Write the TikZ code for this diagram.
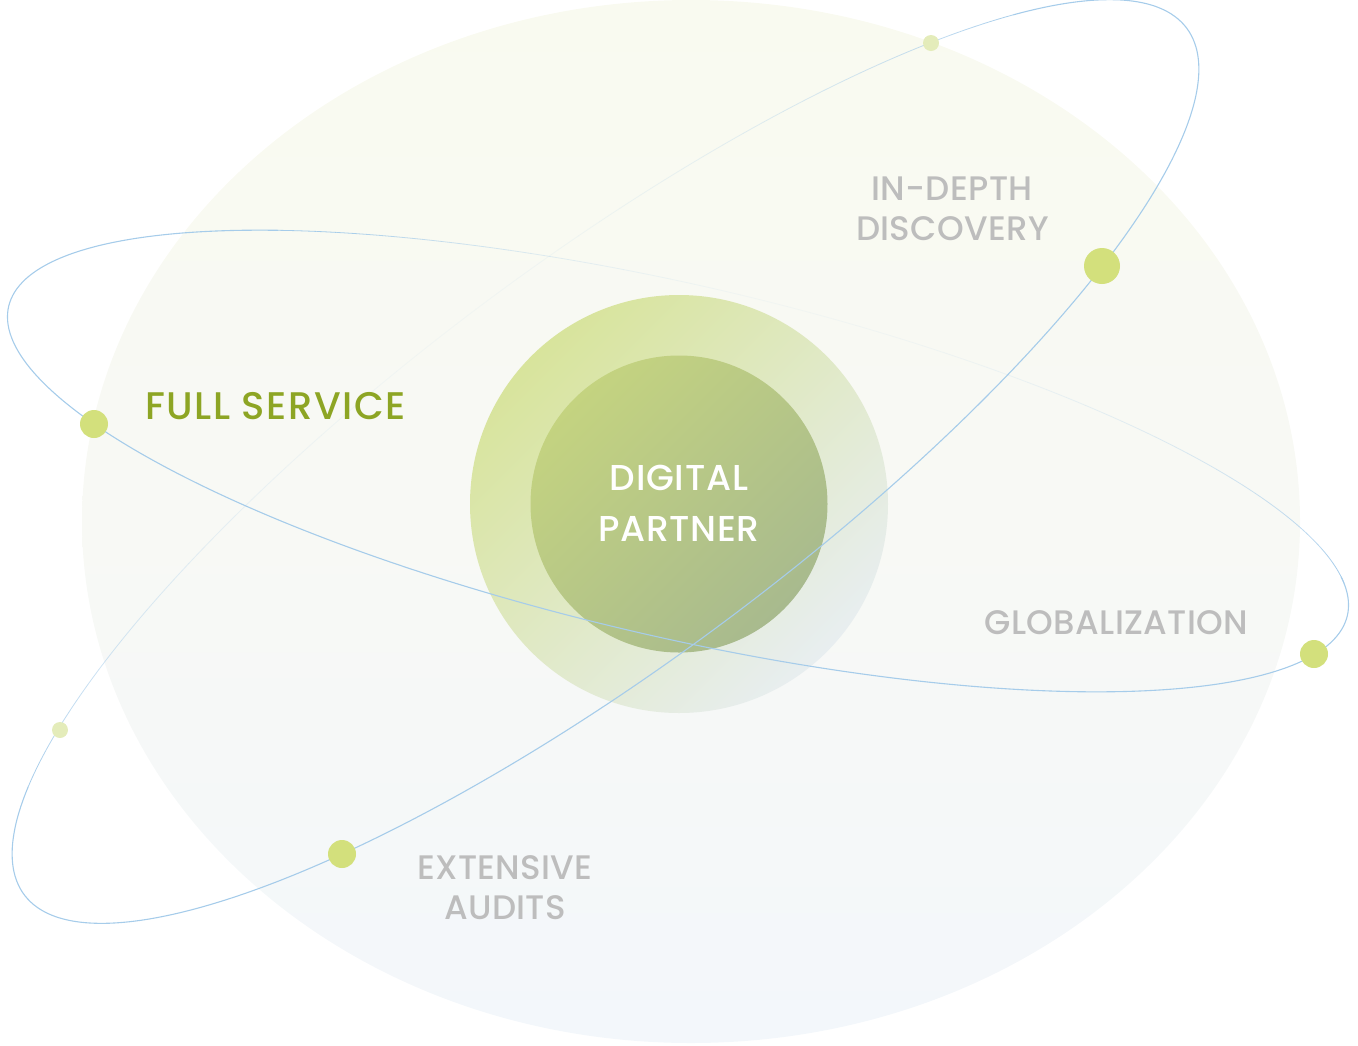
\documentclass[tikz,border=0pt]{standalone}
\usepackage{fontspec}
\IfFontExistsTF{Poppins Medium}{\setmainfont{Poppins Medium}}{\setmainfont{Poppins}[FakeBold=0.6]}
\definecolor{bgtop}{RGB}{249,250,240}
\definecolor{bgbot}{RGB}{243,247,251}
\definecolor{orb}{RGB}{166,204,234}
\definecolor{dotc}{RGB}{211,224,124}
\definecolor{dotf}{RGB}{228,236,186}
\definecolor{ctl}{RGB}{216,228,156}
\definecolor{cbr}{RGB}{232,238,240}
\definecolor{itl}{RGB}{196,211,128}
\definecolor{ibr}{RGB}{168,186,142}
\definecolor{lbl}{RGB}{189,189,189}
\definecolor{grn}{RGB}{141,165,36}
\begin{document}
\begin{tikzpicture}[x=1pt,y=-1pt,
  orbline/.style={draw=orb, line width=1.1pt},
  orbfade/.style={draw=orb, line width=0.8pt, line cap=butt},
  bigdot/.style={circle, fill=dotc, draw=none, inner sep=0pt, minimum size=28pt},
  smalldot/.style={circle, fill=dotf, draw=none, inner sep=0pt, minimum size=16pt},
  lab/.style={text=lbl, font=\fontsize{34}{40}\selectfont\addfontfeatures{LetterSpace=1}, inner sep=0pt, anchor=base},
  ctr/.style={text=white, font=\fontsize{36}{42}\selectfont\addfontfeatures{LetterSpace=2}, inner sep=0pt, anchor=base}]
\useasboundingbox (0,0) rectangle (1358,1045);
% background
\shade[top color=bgtop, bottom color=bgbot, middle color={rgb,255:red,248;green,249;blue,245}] (691,521.5) ellipse [x radius=609pt, y radius=521.5pt];
% back (faded) arcs of orbit 1
\foreach \t in {230,232,...,348}{
  \pgfmathsetmacro\w{\t<275 ? 40 : 70}
  \pgfmathsetmacro\op{0.08+0.92*min(1,((\t-275)/\w)^2)}
  \draw[orbfade, draw opacity=\op] plot[domain=\t:\t+2, samples=3]
    ({678+669.39*cos(\x)-39.59*sin(\x)},{461+154.54*cos(\x)+171.49*sin(\x)});
}
% back (faded) arcs of orbit 2
\foreach \t in {205,207,...,323}{
  \pgfmathsetmacro\op{0.08+0.92*min(1,((\t-265)/60)^2)}
  \draw[orbfade, draw opacity=\op] plot[domain=\t:\t+2, samples=3]
    ({605.5+581.29*cos(\x)+119.23*sin(\x)},{461.5-433.28*cos(\x)+159.96*sin(\x)});
}
% circles
\node[circle, minimum size=418pt, inner sep=0pt, shade, top color=ctl, bottom color=cbr, shading angle=45] (outer) at (679,504) {};
\node[circle, minimum size=297pt, inner sep=0pt, shade, top color=itl, bottom color=ibr, shading angle=45] (inner) at (679,504) {};
% front arcs
\draw[orbline] plot[domain=-12:230, samples=200, smooth]
  ({678+669.39*cos(\x)-39.59*sin(\x)},{461+154.54*cos(\x)+171.49*sin(\x)});
\draw[orbline] plot[domain=-35:205, samples=200, smooth]
  ({605.5+581.29*cos(\x)+119.23*sin(\x)},{461.5-433.28*cos(\x)+159.96*sin(\x)});
% dots
\node[smalldot] (d1) at (931,43) {};
\node[bigdot, minimum size=36pt] (d2) at (1102,266) {};
\node[bigdot] (d3) at (94,424) {};
\node[bigdot] (d4) at (1314,654) {};
\node[bigdot] (d5) at (342,854) {};
\node[smalldot] (d6) at (60,730) {};
% labels
\node[ctr] (dig) at (679,490) {DIGITAL};
\node[ctr] (par) at (679,541.5) {PARTNER};
\node[lab] (ind) at (952,200) {IN-DEPTH};
\node[lab] (dis) at (952.5,240) {DISCOVERY};
\node[lab] (glo) at (1116.5,634) {GLOBALIZATION};
\node[lab] (ext) at (505,879) {EXTENSIVE};
\node[lab] (aud) at (505,919) {AUDITS};
\node[text=grn, font=\fontsize{38.5}{44}\selectfont\addfontfeatures{LetterSpace=4}, inner sep=0pt, anchor=base west] (ful) at (145,419.5) {FULL SERVICE};
\end{tikzpicture}
\end{document}
